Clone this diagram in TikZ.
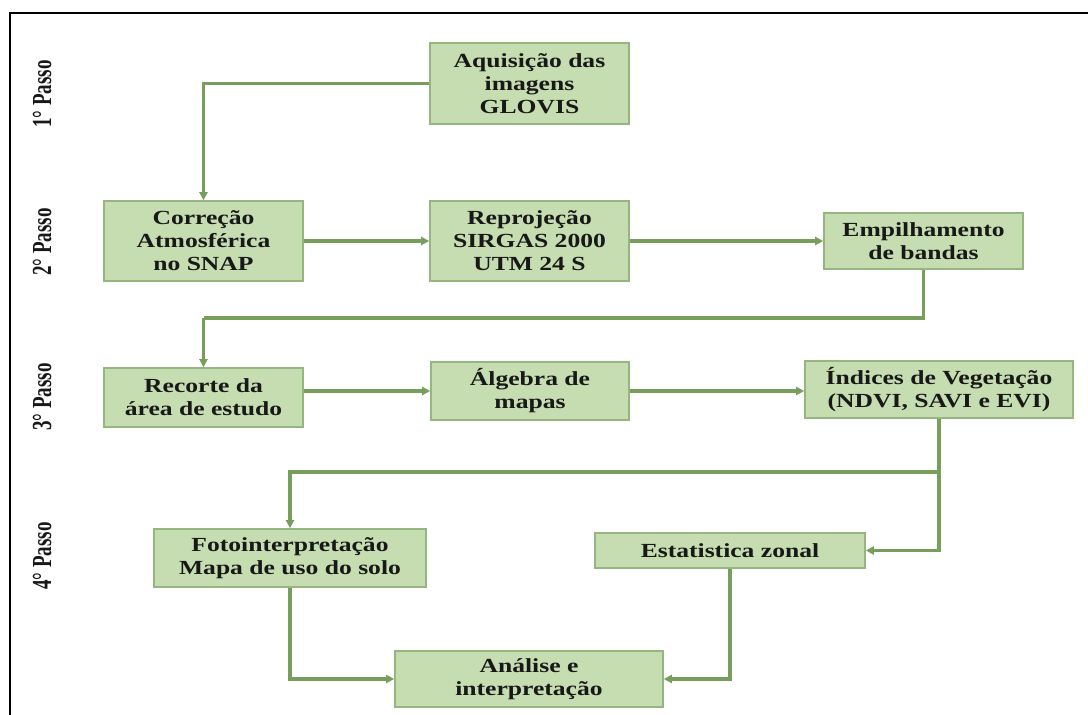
\documentclass[tikz,border=0pt]{standalone}
\usepackage{fontspec}
\setmainfont{Liberation Serif}[FakeStretch=1.28]
\newfontfamily\plainserif{Liberation Serif}
\usetikzlibrary{arrows.meta}
\definecolor{boxfill}{HTML}{C5DDB0}
\definecolor{boxdraw}{HTML}{97B581}
\definecolor{linkcol}{HTML}{789E5B}
\definecolor{txtcol}{HTML}{181818}
\tikzset{
  stepbox/.style={draw=boxdraw, fill=boxfill, line width=1.6pt, inner sep=0pt,
    align=center, text=txtcol,
    font=\fontsize{20}{23}\selectfont\bfseries},
  link/.style={draw=linkcol, line width=3.4pt,
    -{Triangle[length=8pt,width=8pt]}},
  linkplain/.style={draw=linkcol, line width=3.4pt},
  passo/.style={rotate=90, text=txtcol, inner sep=0pt,
    font=\plainserif\fontsize{19}{22}\selectfont\bfseries}
}
\begin{document}
\begin{tikzpicture}[x=1pt,y=-1pt]
\useasboundingbox (0,0) rectangle (1088,715);
\fill[white] (0,0) rectangle (1088,715);
% frame
\draw[black, line width=2.4pt] (10,716) -- (10,13) -- (1089,13);

% step labels
\node[passo] (p1) at (42,94) {\scalebox{1}[1.45]{1° Passo}};
\node[passo] (p2) at (42,242) {\scalebox{1}[1.45]{2° Passo}};
\node[passo] (p3) at (42,397) {\scalebox{1}[1.45]{3° Passo}};
\node[passo] (p4) at (42,556) {\scalebox{1}[1.45]{4° Passo}};

% boxes
\node[stepbox, minimum width=199pt, minimum height=81pt] (acq) at (529.5,83.5) {Aquisição das\\imagens\\GLOVIS};
\node[stepbox, minimum width=199pt, minimum height=80pt] (cor) at (203.5,241) {Correção\\Atmosférica\\no SNAP};
\node[stepbox, minimum width=199pt, minimum height=80pt] (rep) at (529.5,241) {Reprojeção\\SIRGAS 2000\\UTM 24 S};
\node[stepbox, minimum width=199pt, minimum height=56pt] (emp) at (923.5,241) {Empilhamento\\de bandas};
\node[stepbox, minimum width=199pt, minimum height=59pt] (rec) at (203.5,397.5) {Recorte da\\área de estudo};
\node[stepbox, minimum width=198pt, minimum height=58pt] (alg) at (530,391) {Álgebra de\\mapas};
\node[stepbox, minimum width=268pt, minimum height=57pt] (ind) at (939,389.5) {Índices de Vegetação\\(NDVI, SAVI e EVI)};
\node[stepbox, minimum width=272pt, minimum height=58pt] (foto) at (290,558) {Fotointerpretação\\Mapa de uso do solo};
\node[stepbox, minimum width=270pt, minimum height=35pt] (est) at (730,550.5) {Estatistica zonal};
\node[stepbox, minimum width=268pt, minimum height=56pt] (ana) at (529,679) {Análise e\\interpretação};

% helper coordinates
\coordinate (e1) at (923.5,318);
\coordinate (e2) at (203.5,318);
\coordinate (br) at (939,472);

% connectors
\draw[link] (acq.west) -| (cor.north);
\draw[link] (cor.east) -- (rep.west);
\draw[link] (rep.east) -- (emp.west);
\draw[linkplain] (emp.south) -- (e1) -- (e2);
\draw[link] (e2) -- (rec.north);
\draw[link] (alg.west -| rec.east) -- (alg.west);
\draw[link] (alg.east) -- (alg.east -| ind.west);
\draw[link] (ind.south) |- (est.east);
\draw[link] (br) -| (foto.north);
\draw[link] (foto.south) |- (ana.west);
\draw[link] (est.south) |- (ana.east);
\end{tikzpicture}
\end{document}
